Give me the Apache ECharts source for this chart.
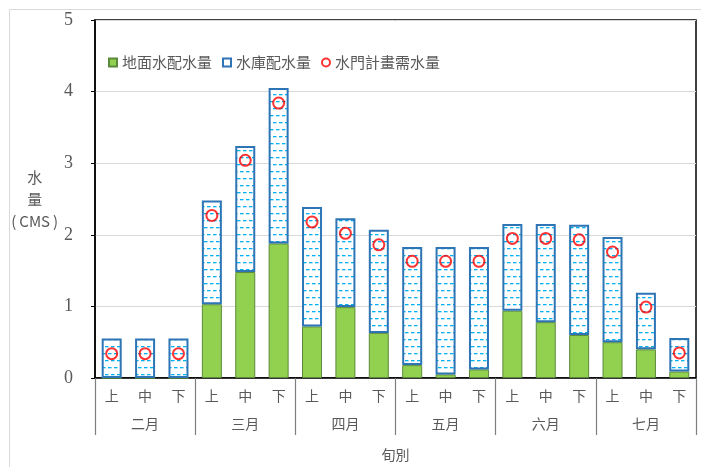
<!DOCTYPE html>
<html>
<head>
<meta charset="utf-8">
<script src="https://cdn.jsdelivr.net/npm/echarts@6/dist/echarts.min.js"></script>
<style>
  html, body { margin: 0; padding: 0; background: #fff; }
  #chart { width: 701px; height: 467px; }
</style>
</head>
<body>
<div id="chart"></div>
<script>
// 旬別 categories
const periods = ['上', '中', '下', '上', '中', '下', '上', '中', '下', '上', '中', '下', '上', '中', '下', '上', '中', '下']
const months = ['二月', '三月', '四月', '五月', '六月', '七月']

// values in CMS
const groundWater = [0, 0, 0, 1.03, 1.48, 1.88, 0.72, 0.99, 0.63, 0.18, 0.05, 0.12, 0.94, 0.78, 0.60, 0.50, 0.40, 0.09]
const totalSupply = [0.55, 0.55, 0.55, 2.48, 3.24, 4.05, 2.39, 2.23, 2.07, 1.83, 1.83, 1.83, 2.15, 2.15, 2.14, 1.97, 1.19, 0.56]
const gateDemand = [0.34, 0.34, 0.34, 2.27, 3.04, 3.84, 2.18, 2.02, 1.86, 1.63, 1.63, 1.63, 1.95, 1.95, 1.93, 1.76, 0.99, 0.35]

const reservoir = totalSupply.map((t, i) => +(t - groundWater[i]).toFixed(2))

const cjk = '"Noto Sans CJK TC", "Noto Sans CJK SC", sans-serif'
const grey = '#595959'

// dashed water pattern for the reservoir bars
const pat = document.createElement('canvas')
pat.width = 6
pat.height = 14
const ctx = pat.getContext('2d')
ctx.fillStyle = '#ffffff'
ctx.fillRect(0, 0, 6, 14)
ctx.fillStyle = '#00b0f0'
ctx.fillRect(0, 3, 3.5, 1.3)
ctx.fillRect(3, 10, 3, 1.3)
ctx.fillRect(0, 10, 0.5, 1.3)

const chart = echarts.init(document.getElementById('chart'))

chart.setOption({
  animation: false,
  graphic: [{
    type: 'rect',
    shape: { x: 9.5, y: 9.5, width: 720, height: 480 },
    style: { fill: 'none', stroke: '#d9d9d9', lineWidth: 1 },
    silent: true,
    z: -1
  }],
  grid: {
    left: 95,
    right: 5,
    top: 20,
    bottom: 89,
    show: true,
    borderColor: '#000',
    borderWidth: 1.5
  },
  legend: {
    left: 103,
    top: 50,
    itemWidth: 8,
    itemHeight: 8,
    itemGap: 10,
    textStyle: { fontFamily: cjk, fontSize: 15, color: grey },
    data: [
      { name: '地面水配水量', icon: 'rect' },
      { name: '水庫配水量', icon: 'rect', itemStyle: { color: '#fff', borderColor: '#2e75b6', borderWidth: 2 } },
      { name: '水門計畫需水量', icon: 'circle', itemStyle: { color: '#fff', borderColor: '#ff0000', borderWidth: 2 } }
    ]
  },
  xAxis: [
    {
      type: 'category',
      data: periods,
      position: 'bottom',
      axisLine: { lineStyle: { color: '#000', width: 1.5 } },
      axisTick: { show: false },
      axisLabel: { interval: 0, margin: 11, fontFamily: cjk, fontSize: 14, color: grey }
    },
    {
      type: 'category',
      data: months,
      position: 'bottom',
      axisLine: { show: false },
      axisTick: { show: true, length: 57, lineStyle: { color: '#7f7f7f', width: 1.2 } },
      axisLabel: { interval: 0, margin: 39, fontFamily: cjk, fontSize: 14, color: grey },
      name: '旬別',
      nameLocation: 'middle',
      nameGap: 70,
      nameTextStyle: { fontFamily: cjk, fontSize: 14, color: grey }
    }
  ],
  yAxis: {
    type: 'value',
    min: 0,
    max: 5,
    interval: 1,
    axisLine: { show: true, lineStyle: { color: '#000', width: 1.5 } },
    axisTick: { show: true, length: 4, lineStyle: { color: '#000' } },
    axisLabel: { margin: 22, fontFamily: '"Liberation Serif", serif', fontSize: 18, color: grey },
    splitLine: { lineStyle: { color: '#d9d9d9' } },
    name: '水\n量\n(\u2009CMS\u2009)',
    nameLocation: 'middle',
    nameRotate: 0,
    nameGap: 57,
    nameTextStyle: { fontFamily: cjk, fontSize: 15, color: grey, lineHeight: 22, align: 'center', padding: [0, 0, 9, 0] }
  },
  series: [
    {
      name: '地面水配水量',
      type: 'bar',
      stack: 'supply',
      barWidth: 20,
      data: groundWater,
      itemStyle: { color: '#92d050', borderColor: '#5b8a3a', borderWidth: 1 }
    },
    {
      name: '水庫配水量',
      type: 'bar',
      stack: 'supply',
      barWidth: 20,
      data: reservoir,
      itemStyle: { color: { image: pat, repeat: 'repeat' }, borderColor: '#2e75b6', borderWidth: 2 }
    },
    {
      name: '水門計畫需水量',
      type: 'scatter',
      data: gateDemand,
      symbol: 'circle',
      symbolSize: 11,
      z: 5,
      itemStyle: { color: 'rgba(255,255,255,0)', borderColor: '#ff0000', borderWidth: 2 }
    }
  ]
})
</script>
</body>
</html>
